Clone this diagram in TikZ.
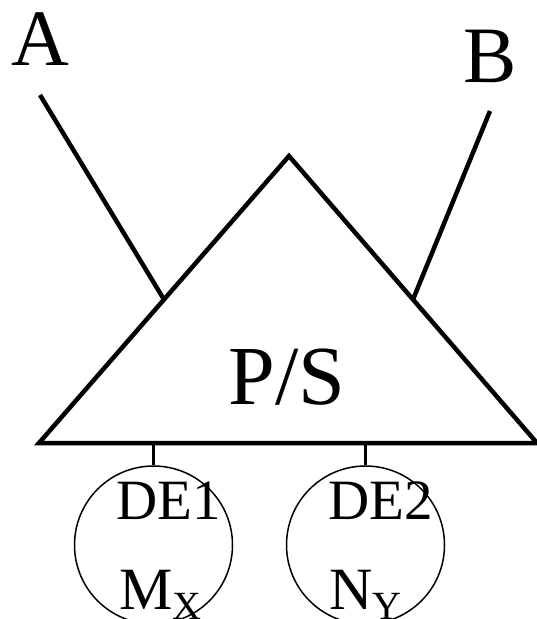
\documentclass[tikz,border=0pt]{standalone}
\usepackage{fontspec}
\setmainfont{Liberation Serif}
\usetikzlibrary{positioning,shapes.geometric,calc}

\begin{document}
\begin{tikzpicture}[x=1pt, y=-1pt,
  tri/.style={line width=4.5pt, line join=miter},
  leg/.style={line width=4.5pt},
  de/.style={draw, ellipse, line width=1.5pt, minimum width=158pt, minimum height=158pt, inner sep=0pt},
  stem/.style={line width=2.5pt},
  big/.style={font=\fontsize{80}{80}\selectfont, inner sep=0pt, anchor=base west},
  lbl/.style={font=\fontsize{57}{57}\selectfont, inner sep=0pt, anchor=base west},
  sub/.style={font=\fontsize{60}{60}\selectfont, inner sep=0pt, anchor=base west}]
\useasboundingbox (0,0) rectangle (537,619);
\coordinate (top) at (289,156);
\coordinate (bl) at (39,443);
\coordinate (br) at (537,443);
\draw[tri] (bl) -- (top) -- (br) -- cycle;
\coordinate (lmid) at ($(bl)!0.5!(top)$);
\coordinate (rmid) at ($(br)!0.5!(top)$);
\node[big] (a) at (11,65) {A};
\node[big] (b) at (463,82) {B};
\coordinate (aend) at (40,95);
\coordinate (bend) at (490,111);
\draw[leg] (aend) -- (lmid); \draw[leg] (bend) -- (rmid);
\node[font=\fontsize{84}{84}\selectfont, inner sep=0pt, anchor=base] (ps) at (287,404) {P/S};
\node[de] (e1) at (153.5,545) {};
\node[de] (e2) at (365.5,545) {};
\draw[stem] (e1.north) -- (e1.north |- bl); \draw[stem] (e2.north) -- (e2.north |- bl);
\node[lbl] (de1) at (116,519) {DE1};
\node[lbl] (de2) at (328,519) {DE2};
\node[sub] (mx) at (119,609) {M\raisebox{-10pt}{\fontsize{40}{40}\selectfont X}};
\node[sub] (ny) at (329,609) {N\raisebox{-10pt}{\fontsize{40}{40}\selectfont Y}};
\end{tikzpicture}
\end{document}
